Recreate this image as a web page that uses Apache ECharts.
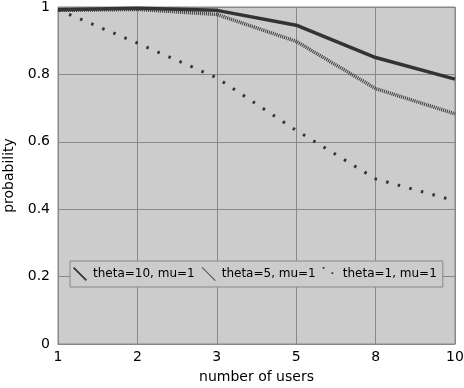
<!DOCTYPE html>
<html><head><meta charset="utf-8">
<script src="https://cdn.jsdelivr.net/npm/echarts@6/dist/echarts.min.js"></script>
<style>html,body{margin:0;padding:0;background:#fff}#c{width:464px;height:388px}</style>
</head><body><div id="c"></div>
<script>
const categories = ['1','2','3','5','8','10'];
const theta10 = [0.992, 0.996, 0.99, 0.946, 0.85, 0.786];
const theta5  = [0.99, 0.993, 0.978, 0.898, 0.758, 0.683];
const theta1  = [0.992, 0.893, 0.79, 0.634, 0.49, 0.425];
const seriesNames = ['theta=10, mu=1', 'theta=5, mu=1', 'theta=1, mu=1'];

const font = 'DejaVu Sans';
const chart = echarts.init(document.getElementById('c'), null, {renderer:'canvas'});
chart.setOption({
  animation: false,
  backgroundColor: '#fff',
  grid: {left: 58, right: 9, top: 7, bottom: 44, show: true, backgroundColor: '#cccccc', borderColor: '#888', borderWidth: 1, containLabel: false, outerBoundsMode: 'none'},
  xAxis: {
    type: 'category', data: categories, boundaryGap: false,
    name: 'number of users', nameLocation: 'middle', nameGap: 26,
    nameTextStyle: {fontFamily: font, fontSize: 14, color: '#000'},
    axisLine: {show: true, lineStyle: {color: '#888'}},
    axisTick: {show: false},
    axisLabel: {fontFamily: font, fontSize: 14, color: '#000', margin: 6},
    splitLine: {show: true, lineStyle: {color: '#888', width: 1}}
  },
  yAxis: {
    type: 'value', min: 0, max: 1, interval: 0.2,
    name: 'probability', nameLocation: 'middle', nameGap: 39,
    nameTextStyle: {fontFamily: font, fontSize: 14, color: '#000'},
    axisLine: {show: true, lineStyle: {color: '#888'}},
    axisTick: {show: false},
    axisLabel: {fontFamily: font, fontSize: 14, color: '#000', margin: 8},
    splitLine: {show: true, lineStyle: {color: '#888', width: 1}}
  },
  legend: {
    left: 70, top: 261,
    backgroundColor: '#cccccc', borderColor: '#888', borderWidth: 1,
    padding: [6, 6, 6, 3], itemGap: 7, itemWidth: 16, itemHeight: 14,
    textStyle: {fontFamily: font, fontSize: 12, color: '#000'},
    data: [
      {name: seriesNames[0], icon: 'path://M0,1.4 L1.4,0 L16,14.6 L14.6,16 Z', itemStyle: {color: '#333'}},
      {name: seriesNames[1], icon: 'path://M0,0.9 L0.9,0 L16,15.1 L15.1,16 Z', itemStyle: {color: '#555'}},
      {name: seriesNames[2], icon: 'path://M0,0 L2,0 L2,2 L0,2 Z M10,6 L12,6 L12,8 L10,8 Z M0,16 L0.01,16 L0.01,16.01 Z M16,0 L16.01,0 L16.01,0.01 Z', itemStyle: {color: '#333'}}
    ]
  },
  series: [
    {name: seriesNames[0], type: 'line', data: theta10, symbol: 'none', color: '#333',
     lineStyle: {color: '#333', width: 3.5}},
    {name: seriesNames[1], type: 'line', data: theta5, symbol: 'none', color: '#555',
     lineStyle: {color: '#3a3a3a', width: 3.5, type: [1, 1]}},
    {name: seriesNames[2], type: 'line', data: theta1, symbol: 'none', color: '#333',
     lineStyle: {color: '#333', width: 3, type: [2.5, 9.5]}}
  ]
});
</script></body></html>
